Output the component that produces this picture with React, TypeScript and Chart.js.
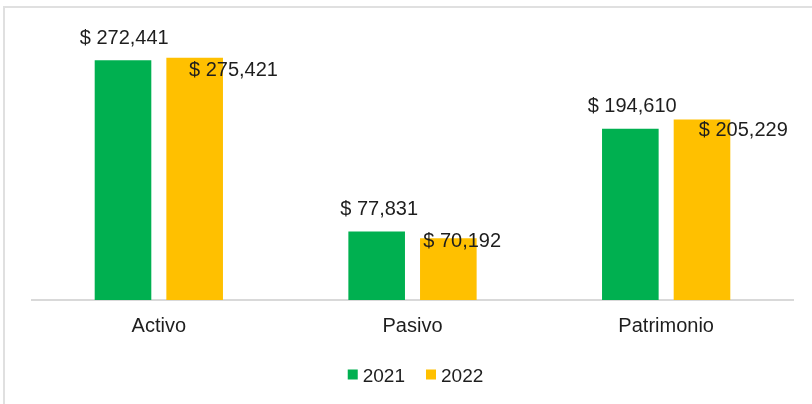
import React, { useEffect, useRef } from 'react';
import { Chart, registerables } from 'chart.js';

Chart.register(...registerables);

// ---- data ----
const categories = ['Activo', 'Pasivo', 'Patrimonio'];
const seriesNames = ['2021', '2022'];
const values2021 = [272441, 77831, 194610];
const values2022 = [275421, 70192, 205229];
const yMin = 0;
const yMax = 300000;

// ---- styling / label placement (not data) ----
const GREEN = '#00B050';
const YELLOW = '#FFC000';
const TEXT = '#1e1e1e';
const FONT = '"Liberation Sans", Arial, sans-serif';
const labelDx2021 = [1.2, 2.5, 1.8];
const labelDy2021 = [-16, -16.7, -16.7];
const labelDx2022 = [38.8, 13.8, 41.3];
const labelDy2022 = [18.3, 8.4, 16.7];

const fmt = (v: number) => '$ ' + v.toLocaleString('en-US');

const dataLabelPlugin = {
  id: 'excelDataLabels',
  afterDatasetsDraw(chart: any) {
    const ctx = chart.ctx;
    ctx.save();
    ctx.font = `20px ${FONT}`;
    ctx.fillStyle = TEXT;
    ctx.textAlign = 'center';
    ctx.textBaseline = 'alphabetic';
    chart.data.datasets.forEach((ds: any, i: number) => {
      const meta = chart.getDatasetMeta(i);
      const dx = i === 0 ? labelDx2021 : labelDx2022;
      const dy = i === 0 ? labelDy2021 : labelDy2022;
      meta.data.forEach((bar: any, j: number) => {
        ctx.fillText(fmt(ds.data[j]), bar.x + dx[j], bar.y + dy[j]);
      });
    });
    ctx.restore();
  },
};

const legendPlugin = {
  id: 'excelLegend',
  afterDraw(chart: any) {
    const ctx = chart.ctx;
    const area = chart.chartArea;
    ctx.save();
    ctx.font = `19px ${FONT}`;
    const box = 10;
    const gapText = 5;
    const gapItem = 21;
    const items = chart.data.datasets.map((ds: any) => ({
      label: ds.label,
      color: ds.backgroundColor,
      w: ctx.measureText(ds.label).width,
    }));
    const total =
      items.reduce((s: number, it: any) => s + box + gapText + it.w, 0) +
      gapItem * (items.length - 1);
    let x = (area.left + area.right) / 2 + 3 - total / 2;
    const baseline = 382;
    items.forEach((it: any) => {
      ctx.fillStyle = it.color;
      ctx.fillRect(x, 369.5, box, box);
      ctx.fillStyle = TEXT;
      ctx.textAlign = 'left';
      ctx.textBaseline = 'alphabetic';
      ctx.fillText(it.label, x + box + gapText, baseline);
      x += box + gapText + it.w + gapItem;
    });
    ctx.restore();
  },
};

export default function App() {
  const ref = useRef<HTMLCanvasElement | null>(null);

  useEffect(() => {
    if (!ref.current) return;
    const chart = new Chart(ref.current, {
      type: 'bar',
      data: {
        labels: categories,
        datasets: [
          {
            label: seriesNames[0],
            data: values2021,
            backgroundColor: GREEN,
            borderWidth: 0,
            categoryPercentage: 0.565,
            barPercentage: 0.79,
          },
          {
            label: seriesNames[1],
            data: values2022,
            backgroundColor: YELLOW,
            borderWidth: 0,
            categoryPercentage: 0.565,
            barPercentage: 0.79,
          },
        ],
      },
      options: {
        responsive: false,
        maintainAspectRatio: false,
        animation: false,
        devicePixelRatio: 1,
        layout: { padding: { left: 32, right: 19, top: 36, bottom: 52 } },
        plugins: {
          legend: { display: false },
          tooltip: { enabled: false },
        },
        scales: {
          x: {
            grid: { display: false, drawTicks: false },
            border: { display: true, color: '#d9d9d9', width: 2 },
            ticks: {
              color: TEXT,
              font: { family: FONT, size: 20 },
              padding: 14,
            },
          },
          y: {
            display: false,
            min: yMin,
            max: yMax,
          },
        },
      },
      plugins: [dataLabelPlugin, legendPlugin],
    });
    return () => chart.destroy();
  }, []);

  return (
    <div
      style={{
        position: 'fixed',
        left: 0,
        top: 0,
        width: 812,
        height: 404,
        overflow: 'hidden',
        background: '#fff',
      }}
    >
      <div
        style={{
          position: 'absolute',
          left: 3,
          top: 6,
          width: 900,
          height: 600,
          border: '2px solid #e0e0e0',
          boxSizing: 'border-box',
        }}
      />
      <canvas
        ref={ref}
        width={812}
        height={404}
        style={{ position: 'absolute', left: 0, top: 0, width: 812, height: 404 }}
      />
    </div>
  );
}
